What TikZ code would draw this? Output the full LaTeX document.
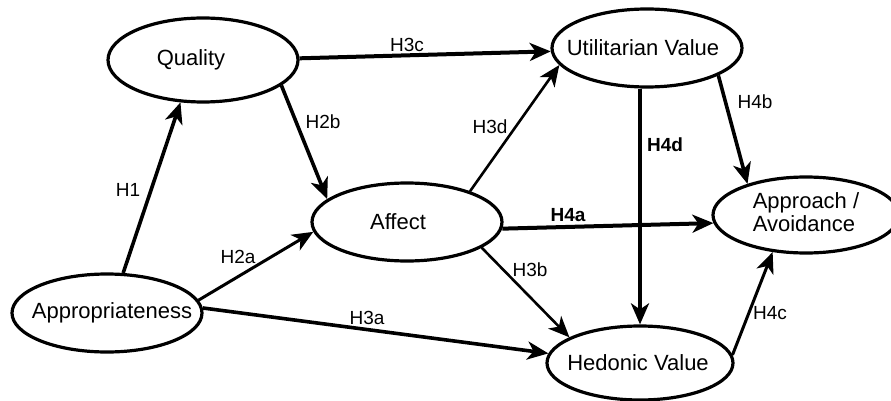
\documentclass[tikz,border=0pt]{standalone}
\usepackage{fontspec}
\setmainfont{Liberation Sans}
\usetikzlibrary{arrows.meta,shapes.geometric}
\begin{document}
\begin{tikzpicture}[x=1pt,y=-1pt,
  construct/.style={draw=black, ellipse, line width=3.2pt, minimum width=190pt, minimum height=78pt, inner sep=0pt, fill=white, font=\fontsize{22}{23}\selectfont},
  link/.style={line width=3.6pt, -{Stealth[length=21pt,width=18pt,inset=6pt]}},
  thinlink/.style={link, line width=2.6pt},
  hyp/.style={inner sep=0pt, font=\fontsize{19}{20}\selectfont}
]
\useasboundingbox (0,0) rectangle (891,401);

% constructs
\node[construct, minimum height=84pt] (Q) at (203,60) {\makebox[0pt]{\hspace*{-24pt}Quality}};
\node[construct] (U) at (647,48) {\makebox[0pt]{\hspace*{-8pt}Utilitarian Value}};
\node[construct] (A) at (407,222) {\makebox[0pt]{\hspace*{-18pt}Affect}};
\node[construct] (P) at (107,313) {\makebox[0pt]{\hspace*{10pt}Appropriateness}};
\node[construct, minimum width=186pt, minimum height=74pt] (H) at (640,363) {\makebox[0pt]{\hspace*{-4pt}Hedonic Value}};
\node[construct, minimum width=186pt, minimum height=76pt] (R) at (806,215) {\makebox[0pt]{\begin{tabular}{@{}l@{}}Approach /\\Avoidance\end{tabular}}};

% paths
\draw[link] (P.68) -- (Q.242);
\draw[link] (Q.342) -- (A.164);
\draw[link, line width=4pt] (Q.1) -- (U.182);
\draw[link, line width=3pt] (P.8) -- (A.186);
\draw[link] (P.3) -- (H.174);
\draw[thinlink] (A.26) -- (U.191);
\draw[link, line width=4pt] (A.356) -- (R.185);
\draw[thinlink] (A.341) -- (H.160);
\draw[link, line width=4pt] (U.south -| H.north) -- (H.north);
\draw[link] (U.339) -- (R.152);
\draw[link, line width=3pt] (H.5) -- (R.228);

% hypothesis labels
\node[hyp] (h1) at (128,190) {H1};
\node[hyp] (h2b) at (323,122) {H2b};
\node[hyp] (h3c) at (407,45) {H3c};
\node[hyp] (h2a) at (238,257) {H2a};
\node[hyp] (h3a) at (367,318) {H3a};
\node[hyp] (h3d) at (490,127) {H3d};
\node[hyp, font=\fontsize{19}{20}\selectfont\bfseries] (h4a) at (568,215) {H4a};
\node[hyp] (h3b) at (530,270) {H3b};
\node[hyp, font=\fontsize{19}{20}\selectfont\bfseries] (h4d) at (665,145) {H4d};
\node[hyp] (h4b) at (755,102) {H4b};
\node[hyp] (h4c) at (770,313) {H4c};
\end{tikzpicture}
\end{document}
